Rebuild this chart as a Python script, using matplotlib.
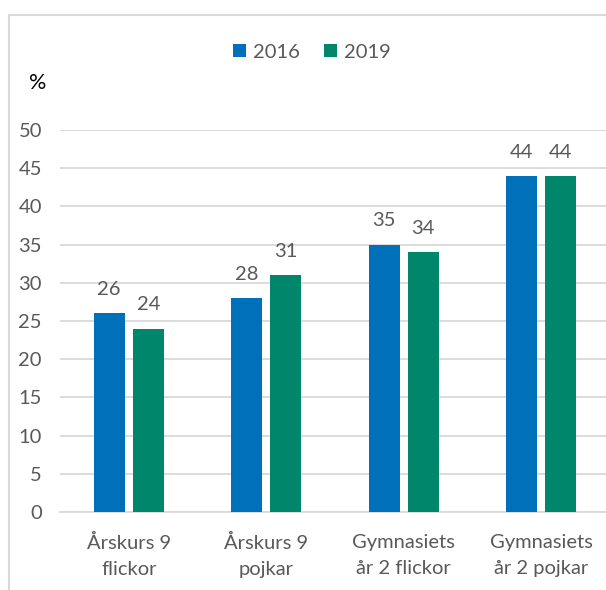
import matplotlib.pyplot as plt
from matplotlib.lines import Line2D
import numpy as np

categories = ['Årskurs 9\nflickor', 'Årskurs 9\npojkar', 'Gymnasiets\når 2 flickor', 'Gymnasiets\når 2 pojkar']
years = ['2016', '2019']
values_2016 = [26, 28, 35, 44]
values_2019 = [24, 31, 34, 44]
yticks = [0, 5, 10, 15, 20, 25, 30, 35, 40, 45, 50]

blue = '#0070BA'
green = '#00866A'
grey_text = '#595959'

plt.rcParams['font.family'] = ['Lato', 'DejaVu Sans']
fs = 14.5

W, H = 606, 590
fig = plt.figure(figsize=(W / 100, H / 100), dpi=100)

# outer frame (cropped screenshot: only top and left edges visible)
fig.add_artist(Line2D([9 / W, 1], [1 - 15 / H, 1 - 15 / H], color='#D9D9D9', lw=1.5))
fig.add_artist(Line2D([9 / W, 9 / W], [0, 1 - 15 / H], color='#D9D9D9', lw=1.5))

left, right, top, bottom = 60, 606, 130, 512
ax = fig.add_axes([left / W, 1 - bottom / H, (right - left) / W, (bottom - top) / H])

step = 137.5
x = np.arange(len(categories))
bw = 0.225
gap = 0.06
off = (bw + gap) / 2
b1 = ax.bar(x - off, values_2016, bw, color=blue, label=years[0], zorder=3)
b2 = ax.bar(x + off, values_2019, bw, color=green, label=years[1], zorder=3)

for bars in (b1, b2):
    ax.bar_label(bars, padding=11, fontsize=fs, color=grey_text)

ax.set_xlim(-0.5, -0.5 + (right - left) / step)
ax.set_ylim(0, 50)
ax.set_yticks(yticks)
ax.yaxis.grid(True, color='#D9D9D9', lw=1.3, zorder=0)
ax.set_xticks(x)
ax.set_xticklabels(categories, fontsize=fs, color=grey_text, linespacing=1.6)
ax.tick_params(axis='y', length=0, labelsize=fs, labelcolor=grey_text, pad=13)
ax.tick_params(axis='x', length=0, pad=16)
for s in ['top', 'right', 'left']:
    ax.spines[s].set_visible(False)
ax.spines['bottom'].set_color('#D9D9D9')
ax.spines['bottom'].set_linewidth(1.3)

fig.legend(loc='center', bbox_to_anchor=(312 / W, 1 - 52 / H), ncol=2, frameon=False,
           fontsize=fs, labelcolor=grey_text, handlelength=0.65, handleheight=0.65,
           handletextpad=0.35, columnspacing=1.2)

fig.text(38 / W, 1 - 83 / H, '%', fontsize=15.5, color='black', ha='center', va='center')

fig.savefig('out.png', dpi=100)
